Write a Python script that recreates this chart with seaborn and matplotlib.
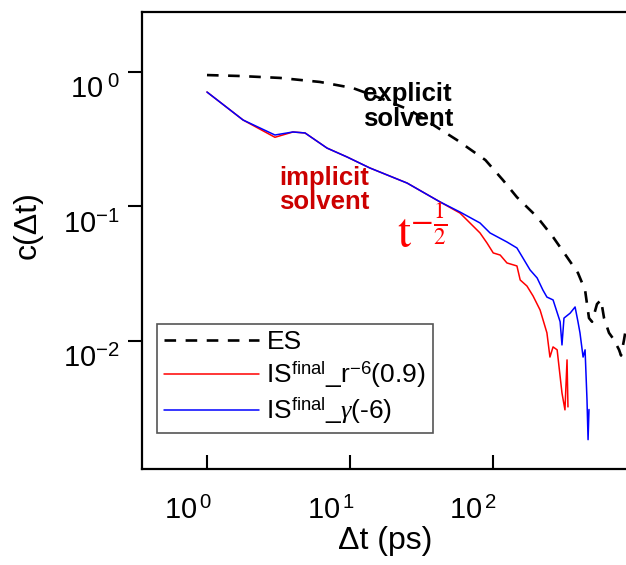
import numpy as np
import pandas as pd
import matplotlib
matplotlib.use("Agg")
import matplotlib.pyplot as plt
import matplotlib.transforms as mtransforms
from matplotlib.ticker import FixedLocator, FixedFormatter, NullLocator
import seaborn as sns

# values
es_t = [1, 1.70, 3.24, 6.18, 10.5, 16.3, 26.4, 56.3, 89, 118, 148, 205, 265, 332, 396,
        444, 473, 497, 538, 574, 603, 653, 708, 768, 793, 832, 859]
es_c = [0.945, 0.93, 0.90, 0.84, 0.757, 0.638, 0.519, 0.311, 0.221, 0.157, 0.117, 0.0834,
        0.0592, 0.042, 0.032, 0.0239, 0.0148, 0.0139, 0.0188, 0.0202, 0.0148, 0.0115,
        0.0102, 0.0086, 0.0078, 0.0102, 0.0125]

red_t = [1, 1.79, 2.99, 4.0, 4.86, 6.93, 9.55, 13.8, 25.2, 42.8, 59.1, 81.6, 91.4, 101,
         113, 126, 148, 156, 174, 192, 215, 240, 252, 265, 283, 306, 321, 332, 337]
red_c = [0.707, 0.438, 0.326, 0.357, 0.351, 0.271, 0.233, 0.193, 0.149, 0.108, 0.0892,
         0.0635, 0.0534, 0.0451, 0.0435, 0.038, 0.0361, 0.0284, 0.0256, 0.0216, 0.0170,
         0.0115, 0.0076, 0.00904, 0.0086, 0.00411, 0.00308, 0.00724, 0.00324]

blue_t = [1, 1.79, 2.99, 4.0, 4.86, 6.93, 9.55, 13.8, 25.2, 42.8, 59.1, 81.6, 95.9, 126,
          148, 163, 183, 205, 225, 240, 265, 297, 306, 316, 349, 378, 396, 409, 430, 444,
          458, 466, 473]
blue_c = [0.707, 0.438, 0.339, 0.357, 0.351, 0.271, 0.233, 0.193, 0.149, 0.108, 0.0908,
          0.0753, 0.0635, 0.0544, 0.0491, 0.0414, 0.0337, 0.0294, 0.0239, 0.0212, 0.0202,
          0.0139, 0.00935, 0.0148, 0.0161, 0.0179, 0.0139, 0.0115, 0.0076, 0.0086,
          0.00366, 0.00185, 0.0031]

xticks = [1, 10, 100]
xticklabels = [r"$10^{\,0}$", r"$10^{\,1}$", r"$10^{\,2}$"]
yticks = [1, 0.1, 0.01]
yticklabels = [r"$10^{\ 0}$", r"$10^{-1}$", r"$10^{-2}$"]

es_df = pd.DataFrame({"t": es_t, "c": es_c})
red_df = pd.DataFrame({"t": red_t, "c": red_c})
blue_df = pd.DataFrame({"t": blue_t, "c": blue_c})

sns.set_style("ticks")
plt.rcParams["font.family"] = ["Liberation Sans", "DejaVu Sans"]
plt.rcParams["mathtext.fontset"] = "custom"
plt.rcParams["mathtext.rm"] = "Liberation Sans"
plt.rcParams["mathtext.it"] = "Liberation Serif:italic"
plt.rcParams["mathtext.bf"] = "Liberation Sans:bold"
for key in ["text.color", "axes.labelcolor", "xtick.color", "ytick.color",
            "axes.edgecolor"]:
    plt.rcParams[key] = "black"

fig = plt.figure(figsize=(6.26, 5.65), dpi=100)
ax = fig.add_axes([0.2268, 0.1699, 0.7732, 0.8089])

sns.lineplot(data=es_df, x="t", y="c", ax=ax, color="black", linewidth=1.9,
             linestyle=(0, (4.4, 3.6)), estimator=None, sort=False, label="ES")
sns.lineplot(data=red_df, x="t", y="c", ax=ax, color="#ff0000", linewidth=1.1,
             estimator=None, sort=False, label=r"IS$^{\mathrm{final}}$_r$^{\mathrm{-6}}$(0.9)")
sns.lineplot(data=blue_df, x="t", y="c", ax=ax, color="#0000ff", linewidth=1.1,
             estimator=None, sort=False, label=r"IS$^{\mathrm{final}}$_$\gamma$(-6)")

ax.set_xscale("log")
ax.set_yscale("log")
ax.set_xlim(0.3506, 859)
ax.set_ylim(0.00112, 2.78)

ax.xaxis.set_major_locator(FixedLocator(xticks))
ax.xaxis.set_major_formatter(FixedFormatter(xticklabels))
ax.yaxis.set_major_locator(FixedLocator(yticks))
ax.yaxis.set_major_formatter(FixedFormatter(yticklabels))
ax.xaxis.set_minor_locator(NullLocator())
ax.yaxis.set_minor_locator(NullLocator())

ax.tick_params(axis="y", direction="out", length=10, width=1.5, labelsize=21, pad=6)
ax.tick_params(axis="x", direction="in", length=10, width=1.5, labelsize=21, pad=20)

for lab in ax.get_yticklabels():
    lab.set_transform(lab.get_transform() +
                      mtransforms.ScaledTranslation(0, -11 / 72, fig.dpi_scale_trans))
for lab in ax.get_xticklabels():
    lab.set_transform(lab.get_transform() +
                      mtransforms.ScaledTranslation(-14 / 72, 0, fig.dpi_scale_trans))

for side in ["left", "top", "bottom"]:
    ax.spines[side].set_linewidth(1.6)
    ax.spines[side].set_color("black")
ax.spines["right"].set_visible(False)

ax.set_xlabel("Δt (ps)", fontsize=23)
ax.set_ylabel("c(Δt)", fontsize=23)
ax.xaxis.set_label_coords(0.502, -0.125)
ax.yaxis.set_label_coords(-0.205, 0.534)

ax.text(0.457, 0.794, "explicit\nsolvent", transform=ax.transAxes, fontsize=18.5,
        fontweight="bold", color="black", ha="left", va="center", linespacing=1.05)
ax.text(0.283, 0.6105, "implicit\nsolvent", transform=ax.transAxes, fontsize=18.5,
        fontweight="bold", color="#cc0000", ha="left", va="center", linespacing=1.05)
ax.text(0.579, 0.516, r"$\mathrm{t}^{-\frac{1}{2}}$", transform=ax.transAxes, fontsize=34,
        color="#ff0000", ha="center", va="center", math_fontfamily="stix")

leg = ax.legend(loc="lower left", bbox_to_anchor=(0.031, 0.079), fontsize=19,
                frameon=True, fancybox=False, edgecolor="#555555", framealpha=1,
                handlelength=3.6, handletextpad=0.3, borderpad=0.25, labelspacing=0.2,
                borderaxespad=0)
leg.get_frame().set_linewidth(1.2)

fig.savefig("out.png", dpi=100)
